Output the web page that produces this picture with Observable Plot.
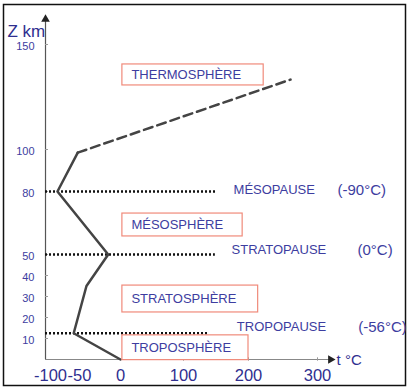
<!DOCTYPE html>
<html><head><meta charset="utf-8">
<script src="https://cdn.jsdelivr.net/npm/d3@7"></script>
<script src="https://cdn.jsdelivr.net/npm/@observablehq/plot@0.6"></script>
<style>
html,body{margin:0;padding:0;background:#fff;}
#chart{width:410px;height:390px;}
svg{font-family:"Liberation Sans",Arial,sans-serif;}
</style></head><body><div id="chart"></div>
<script>
// ---- data ----
const profileAltitude = [0, 12.5, 35, 50, 80, 98.5];
const profileTemperature = [0, -60, -41.5, -15, -88, -53];
const extrapAltitude = [98.5, 133.3];
const extrapTemperature = [-53, 261];
const pauseNames = ["MÉSOPAUSE", "STRATOPAUSE", "TROPOPAUSE"];
const pauseAltitude = [80, 50, 12.5];
const pauseTempLabels = ["(-90°C)", "(0°C)", "(-56°C)"];
const layerNames = ["THERMOSPHÈRE", "MÉSOSPHÈRE", "STRATOSPHÈRE", "TROPOSPHÈRE"];
const layerTop = [140.5, 69.5, 35.2, 11.5];
const layerBottom = [130.5, 58.6, 22.4, -0.3];
const xTicks = [-100, -50, 0, 100, 200, 300];
const yTicks = [10, 20, 30, 40, 50, 80, 100, 150];

// ---- layout helpers ----
const tMin = -108.6, tMax = 317, zTop = 162;
const profile = profileAltitude.map((z, i) => ({z, t: profileTemperature[i]}));
const extrap = extrapAltitude.map((z, i) => ({z, t: extrapTemperature[i]}));
const pauses = pauseNames.map((name, i) => ({name, z: pauseAltitude[i], label: pauseTempLabels[i], i}));
const layers = layerNames.map((name, i) => ({name, top: layerTop[i], bottom: layerBottom[i], i}));
const pauseEnd = [152, 149, 140];
const pauseNameX = [177, 174, 182];
const pauseLabelX = [329, 358, 359];
const pauseDy = [-1.5, -4.5, -6];
const layerRight = [222, 191, 214, 200];
const textBlue = "#3d3da0";

const chart = Plot.plot({
  width: 410, height: 390,
  marginLeft: 0, marginRight: 0, marginTop: 0, marginBottom: 0,
  x: {type: "linear", domain: [-100, -50, 0, 100, 200, 300], range: [50, 79, 120, 183, 248, 317], axis: null},
  y: {domain: [0, 150], range: [359, 44], axis: null},
  marks: [
    Plot.frame({insetLeft: 3, insetTop: 4, insetRight: 5, insetBottom: 5, stroke: "#111", strokeWidth: 1.5}),
    // axes
    Plot.ruleX([tMin], {y1: 0, y2: zTop, stroke: "#555", strokeWidth: 1.2}),
    Plot.ruleY([0], {x1: tMin, x2: tMax + 2, stroke: "#888", strokeWidth: 1}),
    Plot.dot([0], {x: tMin, y: zTop, symbol: "triangle", r: 3.2, fill: "#222", stroke: "none"}),
    Plot.dot([0], {x: tMax + 2, y: 0, symbol: "triangle", rotate: 90, r: 3.2, fill: "#222", stroke: "none"}),
    Plot.ruleY(yTicks, {x1: tMin, x2: -103.5, stroke: "#999"}),
    Plot.ruleX(xTicks.filter(d => d > 0), {y1: -0.8, y2: 0.8, stroke: "#999"}),
    Plot.text(yTicks, {y: d => d, frameAnchor: "left", dx: 34, dy: 1.5, textAnchor: "end", fill: textBlue, fontSize: 11}),
    Plot.text(xTicks, {x: d => d, y: 0, dy: 16, textAnchor: "middle", fill: "#2f2f8f", fontSize: 16.5, text: d => String(d)}),
    Plot.text(["Z km"], {frameAnchor: "top-left", lineAnchor: "middle", dx: 7, dy: 31, textAnchor: "start", fill: "#2f2f8f", fontSize: 17}),
    Plot.text(["t °C"], {x: tMax + 2, y: 0, dx: 6, dy: 1, textAnchor: "start", fill: "#2f2f8f", fontSize: 15}),
    // pause dotted lines
    Plot.ruleY(pauses, {y: "z", x1: tMin, x2: d => pauseEnd[d.i], stroke: "#111", strokeWidth: 2.5, strokeDasharray: "2,2"}),
    ...pauses.map(p => Plot.text([p], {y: "z", x: d => pauseNameX[d.i], dy: pauseDy[p.i], text: "name", textAnchor: "start", fill: textBlue, fontSize: 13})),
    ...pauses.map(p => Plot.text([p], {y: "z", x: d => pauseLabelX[d.i], dy: pauseDy[p.i], text: "label", textAnchor: "start", fill: textBlue, fontSize: 15})),
    // temperature profile
    Plot.line(profile, {x: "t", y: "z", stroke: "#444", strokeWidth: 2.5, curve: "linear"}),
    Plot.line(extrap, {x: "t", y: "z", stroke: "#444", strokeWidth: 2.5, strokeDasharray: "9,5"}),
    // layer boxes
    Plot.rect(layers, {x1: 3, x2: d => layerRight[d.i], y1: "bottom", y2: "top", fill: "white", stroke: "#f08a7a", strokeWidth: 1.2}),
    Plot.text(layers, {x: 3, y: d => (d.top + d.bottom) / 2, dx: 9, text: "name", textAnchor: "start", fill: textBlue, fontSize: 13})
  ]
});
document.getElementById("chart").append(chart);
</script></body></html>
